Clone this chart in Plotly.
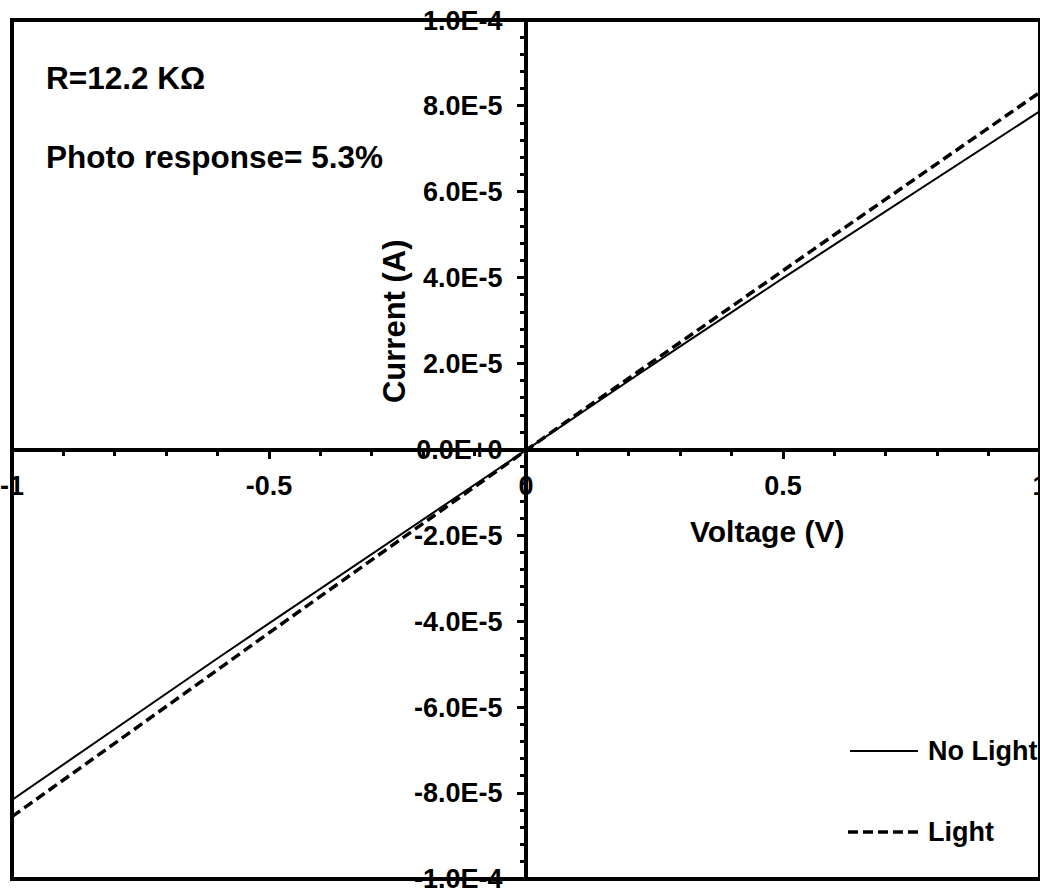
import plotly.graph_objects as go

# Bias voltage sweep (V)
voltage = [-1.0, -0.9, -0.8, -0.7, -0.6, -0.5, -0.4, -0.3, -0.2, -0.1, 0.0,
           0.1, 0.2, 0.3, 0.4, 0.5, 0.6, 0.7, 0.8, 0.9, 1.0]

# Measured current in the dark (A)
current_dark = [-8.16e-5, -7.33e-5, -6.51e-5, -5.68e-5, -4.86e-5, -4.05e-5,
                -3.24e-5, -2.43e-5, -1.62e-5, -0.81e-5, 0.0,
                0.80e-5, 1.60e-5, 2.40e-5, 3.20e-5, 3.99e-5, 4.77e-5,
                5.55e-5, 6.33e-5, 7.11e-5, 7.88e-5]

# Measured current under illumination (A)
current_light = [-8.55e-5, -7.70e-5, -6.84e-5, -5.98e-5, -5.13e-5, -4.27e-5,
                 -3.42e-5, -2.56e-5, -1.71e-5, -0.85e-5, 0.0,
                 0.83e-5, 1.66e-5, 2.50e-5, 3.33e-5, 4.16e-5, 5.00e-5,
                 5.83e-5, 6.66e-5, 7.49e-5, 8.32e-5]

x_tickvals = [-1.0, -0.5, 0.0, 0.5, 1.0]
x_ticktext = ["-1", "-0.5", "0", "0.5", "1"]
y_tickvals = [-1.0e-4, -8.0e-5, -6.0e-5, -4.0e-5, -2.0e-5, 0.0,
              2.0e-5, 4.0e-5, 6.0e-5, 8.0e-5, 1.0e-4]
y_ticktext = ["-1.0E-4", "-8.0E-5", "-6.0E-5", "-4.0E-5", "-2.0E-5", "0.0E+0",
              "2.0E-5", "4.0E-5", "6.0E-5", "8.0E-5", "1.0E-4"]

series_names = ["No Light", "Light"]
annotation_lines = ["R=12.2 K\u03a9", "Photo response= 5.3%"]

FONT = "Liberation Sans, Arial, sans-serif"
BLACK = "#000000"
DASH = "10px,5px"

fig = go.Figure()
fig.add_trace(go.Scatter(x=voltage, y=current_dark, mode="lines",
                         name=series_names[0],
                         line=dict(color=BLACK, width=2)))
fig.add_trace(go.Scatter(x=voltage, y=current_light, mode="lines",
                         name=series_names[1],
                         line=dict(color=BLACK, width=3.5, dash=DASH)))

axis_common = dict(
    showline=True, linecolor=BLACK, linewidth=4,
    showgrid=False, zeroline=False, automargin=False,
    ticks="outside", tickcolor=BLACK, tickwidth=3, ticklen=7,
    tickfont=dict(family=FONT, size=27, color=BLACK, weight="bold"),
    ticklabeloverflow="allow",
    anchor="free", position=0.5, tickmode="array",
)

fig.update_layout(
    width=1040, height=890, autosize=False,
    margin=dict(l=12, r=0, t=20, b=11, autoexpand=False),
    paper_bgcolor="white", plot_bgcolor="white",
    showlegend=False,
    xaxis=dict(axis_common, range=[-1.0, 1.0],
               tickvals=x_tickvals, ticktext=x_ticktext,
               ticklabelstandoff=4,
               minor=dict(tickmode="linear", tick0=0.0, dtick=0.1,
                          ticks="outside", ticklen=4, tickwidth=3,
                          tickcolor=BLACK, showgrid=False)),
    yaxis=dict(axis_common, range=[-1.0002e-4, 1.0002e-4],
               tickvals=y_tickvals, ticktext=y_ticktext,
               ticklabelstandoff=9,
               minor=dict(tickmode="linear", tick0=0.0, dtick=4e-6,
                          ticks="outside", ticklen=4, tickwidth=3,
                          tickcolor=BLACK, showgrid=False)),
)

# Frame around the plotting area
fig.add_shape(type="rect", xref="paper", yref="paper", x0=0, y0=0, x1=1, y1=1,
              line=dict(color=BLACK, width=4), layer="above")

# Axis titles
fig.add_annotation(text="Voltage (V)", xref="paper", yref="paper",
                   x=0.7344, y=0.404, showarrow=False,
                   font=dict(family=FONT, size=30, color=BLACK, weight="bold"),
                   xanchor="center", yanchor="middle")
fig.add_annotation(text="Current (A)", xref="paper", yref="paper",
                   x=0.3726, y=0.6496, showarrow=False,
                   font=dict(family=FONT, size=31, color=BLACK, weight="bold"),
                   textangle=-90, xanchor="center", yanchor="middle")

# Device notes
note_font = dict(family=FONT, size=31.5, color=BLACK, weight="bold")
for text, ypos in zip(annotation_lines, [0.9325, 0.8405]):
    fig.add_annotation(text=text, xref="paper", yref="paper",
                       x=0.031, y=ypos, showarrow=False, font=note_font,
                       xanchor="left", yanchor="middle")

# Legend keys
legend_font = dict(family=FONT, size=27, color=BLACK, weight="bold")
legend_rows = [(series_names[0], 0.149, dict(color=BLACK, width=2), 0.8152),
               (series_names[1], 0.0547, dict(color=BLACK, width=3.5, dash=DASH), 0.8132)]
for name, ypos, line_style, x_start in legend_rows:
    fig.add_shape(type="line", xref="paper", yref="paper",
                  x0=x_start, x1=0.8813, y0=ypos, y1=ypos, line=line_style)
    fig.add_annotation(text=name, xref="paper", yref="paper",
                       x=0.889, y=ypos, showarrow=False, font=legend_font,
                       xanchor="left", yanchor="middle")

fig.write_html("out.html")
